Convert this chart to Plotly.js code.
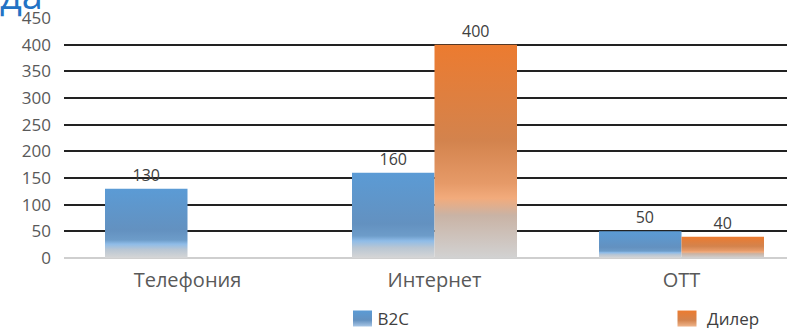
<!DOCTYPE html>
<html>
<head>
<meta charset="utf-8">
<script src="https://cdn.plot.ly/plotly-3.0.1.min.js"></script>
<style>
html,body{margin:0;padding:0;overflow:hidden;background:#fff;}
#chart{width:805px;height:332px;}
</style>
</head>
<body>
<div id="chart"></div>
<script>
const categories = ['Телефония', 'Интернет', 'OTT'];
const seriesNames = ['B2C', 'Дилер'];
const b2cValues = [130, 160, 50];
const dilerValues = [null, 400, 40];
const yTickValues = [0, 50, 100, 150, 200, 250, 300, 350, 400, 450];
const titleText = 'да';

// figure spaces keep the tick labels left-aligned like the reference
const yTickText = yTickValues.map(function(v){ return String(v).padStart(3, '\u2007'); });

const labelFont = {family: 'Open Sans, sans-serif', size: 16, color: '#404040'};

const traces = [
  {type: 'bar', name: seriesNames[0], x: categories, y: b2cValues, legend: 'legend',
   marker: {color: '#5b9bd5'}, texttemplate: '%{y}', textposition: 'outside',
   textfont: labelFont, cliponaxis: false, hoverinfo: 'x+y'},
  {type: 'bar', name: seriesNames[1], x: categories, y: dilerValues, legend: 'legend2',
   marker: {color: '#ed7d31'}, texttemplate: '%{y}', textposition: 'outside',
   textfont: labelFont, cliponaxis: false, hoverinfo: 'x+y'}
];

const legendBase = {orientation: 'h', xref: 'container', yref: 'container', xanchor: 'left', yanchor: 'middle',
  y: (332 - 319) / 332, font: {size: 17, color: '#404040'}, itemwidth: 30, bgcolor: 'rgba(0,0,0,0)'};

const layout = {
  width: 805, height: 332,
  margin: {l: 64, r: 0, t: 18, b: 74, autoexpand: false},
  paper_bgcolor: '#ffffff', plot_bgcolor: '#ffffff',
  font: {family: 'Open Sans, sans-serif', color: '#595959'},
  title: {text: titleText, font: {size: 38, color: '#2372c4'}, x: 0, xref: 'container', xanchor: 'left',
          y: 0.972, yref: 'container', yanchor: 'bottom'},
  barmode: 'group', bargap: 0.332, bargroupgap: 0,
  showlegend: true,
  legend: Object.assign({}, legendBase, {x: 342.5 / 805}),
  legend2: Object.assign({}, legendBase, {x: 667 / 805}),
  xaxis: {type: 'category', tickfont: {size: 20, color: '#595959'}, showgrid: false,
          showline: false, zeroline: false, ticks: '', ticklabelstandoff: 8},
  yaxis: {range: [0, 450], tickvals: yTickValues, ticktext: yTickText, tickfont: {size: 17, color: '#595959'},
          showgrid: true, gridcolor: '#222222', gridwidth: 2, zeroline: true,
          zerolinecolor: '#cfcfcf', zerolinewidth: 2, showline: false, ticks: '',
          ticklabelstandoff: 12}
};

Plotly.newPlot('chart', traces, layout, {staticPlot: true, displayModeBar: false}).then(function(gd){
  const svgNS = 'http://www.w3.org/2000/svg';
  const defs = gd.querySelector('svg.main-svg defs');
  function addGrad(id, stops){
    const g = document.createElementNS(svgNS, 'linearGradient');
    g.setAttribute('id', id);
    g.setAttribute('x1', '0'); g.setAttribute('y1', '0');
    g.setAttribute('x2', '0'); g.setAttribute('y2', '1');
    stops.forEach(function(s){
      const st = document.createElementNS(svgNS, 'stop');
      st.setAttribute('offset', s[0]);
      st.setAttribute('stop-color', s[1]);
      g.appendChild(st);
    });
    defs.appendChild(g);
  }
  addGrad('gradB2C', [['0', '#5b9bd5'], ['0.6', '#6391c0'], ['0.74', '#6d9cc9'], ['0.8', '#8fbce8'], ['0.88', '#b9c6d3'], ['1', '#d6d6d6']]);
  addGrad('gradDiler', [['0', '#ec7b30'], ['0.45', '#d3834d'], ['0.65', '#e69a68'], ['0.72', '#f2ab7c'], ['0.8', '#c9b3a5'], ['1', '#d2d2d2']]);
  addGrad('legB2C', [['0', '#5b9bd5'], ['0.6', '#6391c0'], ['1', '#a9c7e6']]);
  addGrad('legDiler', [['0', '#ec7b30'], ['0.6', '#d3834d'], ['1', '#efb58c']]);
  const ids = ['gradB2C', 'gradDiler'];
  const legIds = ['legB2C', 'legDiler'];
  gd.querySelectorAll('.barlayer .trace').forEach(function(t, i){
    t.querySelectorAll('.point path').forEach(function(p){ p.style.fill = 'url(#' + ids[i] + ')'; });
  });
  gd.querySelectorAll('g.legendpoints').forEach(function(lp, i){
    lp.querySelectorAll('path').forEach(function(p){
      p.setAttribute('d', 'M9.5,8H-9.5V-8H9.5Z');
      p.style.fill = 'url(#' + legIds[i % 2] + ')';
      p.style.stroke = 'none';
    });
  });
  gd.querySelectorAll('text.legendtext').forEach(function(t){ t.setAttribute('x', '35'); });
});
</script>
</body>
</html>
